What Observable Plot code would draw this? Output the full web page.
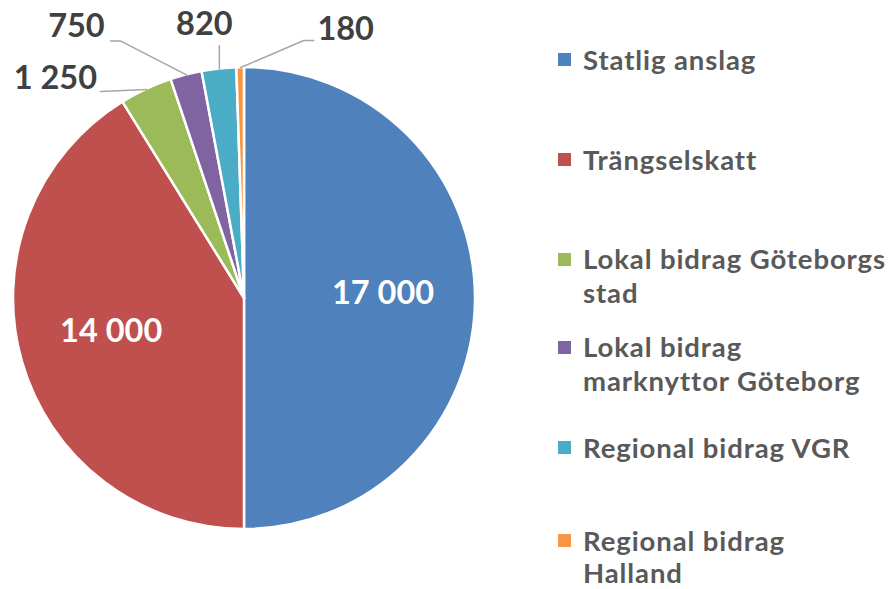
<!DOCTYPE html>
<html>
<head>
<meta charset="utf-8">
<script src="https://cdn.jsdelivr.net/npm/d3@7"></script>
<script src="https://cdn.jsdelivr.net/npm/@observablehq/plot@0.6"></script>
<style>
  html, body { margin: 0; padding: 0; background: #fff; }
  #wrap { position: relative; width: 891px; height: 589px; overflow: hidden; font-family: Lato, "Open Sans", sans-serif; }
  #chart { position: absolute; left: 0; top: 0; }
  .lg-line { position: absolute; left: 583px; font-weight: 700; font-size: 27.5px; letter-spacing: 0.9px; line-height: 26px; height: 26px; color: #595959; white-space: nowrap; }
  .lg-sw { position: absolute; left: 558px; width: 13px; height: 13px; }
</style>
</head>
<body>
<div id="wrap"><div id="chart"></div></div>
<script>
// ---- data ----
const categories = ["Statlig anslag", "Trängselskatt", "Lokal bidrag Göteborgs stad", "Lokal bidrag marknyttor Göteborg", "Regional bidrag VGR", "Regional bidrag Halland"];
const values = [17000, 14000, 1250, 750, 820, 180];
const valueLabels = ["17 000", "14 000", "1 250", "750", "820", "180"];
const legendLines = [["Statlig anslag"], ["Trängselskatt"], ["Lokal bidrag Göteborgs", "stad"], ["Lokal bidrag", "marknyttor Göteborg"], ["Regional bidrag VGR"], ["Regional bidrag", "Halland"]];
const colors = ["#4F81BD", "#C0504D", "#9BBB59", "#8064A2", "#4BACC6", "#F79646"];

// ---- layout ----
const W = 891, H = 589, CX = 244, CY = 298, R = 231;
// label placement for small slices: pixel offsets from the slice's outer midpoint
const callouts = {
  2: {label: [-91, -11], leader: [[-46, 2]]},
  3: {label: [-110, -48], leader: [[-66, -34], [-76, -34]]},
  4: {label: [-15, -44], leader: [[0, -23]]},
  5: {label: [105, -38], leader: [[63, -27], [73, -27]]}
};
const insideRadius = 0.6;
// legend line centres (px) per item
const legendCenters = [[59.5], [159.5], [259, 292.5], [347, 381], [447.5], [540.5, 573]];

const pie = d3.pie().sort(null).value(d => d.value);
const rows = categories.map((c, i) => ({category: c, value: values[i], label: valueLabels[i], color: colors[i], i}));
const arcs = pie(rows);
arcs.forEach(a => {
  a.mid = (a.startAngle + a.endAngle) / 2;
  a.ox = Math.sin(a.mid); a.oy = Math.cos(a.mid); // outer point, unit radius, y up
});

const px = 1 / R; // data units per pixel
const inside = arcs.filter(a => !callouts[a.index]).map(a => ({x: a.ox * insideRadius, y: a.oy * insideRadius, label: a.data.label}));
const outside = arcs.filter(a => callouts[a.index]).map(a => {
  const c = callouts[a.index];
  return {x: a.ox + c.label[0] * px, y: a.oy - c.label[1] * px, label: a.data.label};
});
const leaders = [];
arcs.filter(a => callouts[a.index]).forEach(a => {
  const c = callouts[a.index];
  leaders.push({x: a.ox, y: a.oy, id: a.index});
  c.leader.forEach(p => leaders.push({x: a.ox + p[0] * px, y: a.oy - p[1] * px, id: a.index}));
});

function slices(index, scales) {
  const g = d3.create("svg:g");
  const x0 = scales.x(0), y0 = scales.y(0);
  const rpx = scales.x(1) - scales.x(0);
  const arcGen = d3.arc().innerRadius(0).outerRadius(rpx);
  g.selectAll("path").data(arcs).join("path")
    .attr("transform", `translate(${x0},${y0})`)
    .attr("d", arcGen)
    .attr("fill", d => d.data.color)
    .attr("stroke", "#fff")
    .attr("stroke-width", 2.5)
    .attr("stroke-linejoin", "round");
  return g.node();
}

const plot = Plot.plot({
  width: W,
  height: H,
  margin: 0,
  x: {domain: [-CX / R, (W - CX) / R], range: [0, W], axis: null},
  y: {domain: [-(H - CY) / R, CY / R], range: [H, 0], axis: null},
  style: {fontFamily: "Lato, 'Open Sans', sans-serif", background: "#fff"},
  marks: [
    slices,
    Plot.line(leaders, {x: "x", y: "y", z: "id", stroke: "#A6A6A6", strokeWidth: 1.5}),
    Plot.text(inside, {x: "x", y: "y", dy: -5, text: "label", fill: "#fff", fontSize: 32.5, fontWeight: 700}),
    Plot.text(outside, {x: "x", y: "y", text: "label", fill: "#404040", fontSize: 32.5, fontWeight: 700})
  ]
});
document.getElementById("chart").appendChild(plot);

// legend
const wrap = document.getElementById("wrap");
legendLines.forEach((lines, i) => {
  const sw = document.createElement("div");
  sw.className = "lg-sw";
  sw.style.background = colors[i];
  sw.style.top = (legendCenters[i][0] - 6.5) + "px";
  wrap.appendChild(sw);
  lines.forEach((t, j) => {
    const el = document.createElement("div");
    el.className = "lg-line";
    el.textContent = t;
    el.style.top = (legendCenters[i][j] - 13) + "px";
    wrap.appendChild(el);
  });
});
</script>
</body>
</html>
